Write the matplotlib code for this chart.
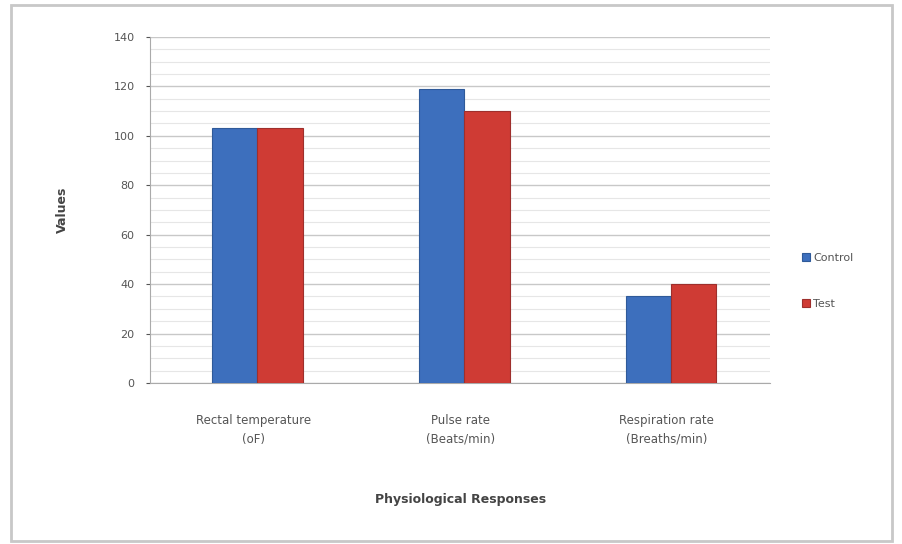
import numpy as np
import matplotlib
matplotlib.use("Agg")
import matplotlib.pyplot as plt
from matplotlib.patches import Rectangle

categories = ["Rectal temperature\n(oF)", "Pulse rate\n(Beats/min)", "Respiration rate\n(Breaths/min)"]
series_names = ["Control", "Test"]
control_values = [103, 119, 35]
test_values = [103, 110, 40]
y_ticks = [0, 20, 40, 60, 80, 100, 120, 140]

fig = plt.figure(figsize=(9.03, 5.44), dpi=100)
fig.patch.set_facecolor("white")
fig.patches.append(Rectangle((0.012, 0.005), 0.976, 0.985, transform=fig.transFigure,
                             fill=False, edgecolor="#c8c8c8", linewidth=2))

ax = fig.add_axes([0.166, 0.296, 0.687, 0.636])
x = np.arange(len(categories))
w = 0.22
ax.bar(x - w / 2 + 0.02, control_values, w, color="#3d6fbd", edgecolor="#2f5a99", linewidth=0.8,
       label=series_names[0], zorder=3)
ax.bar(x + w / 2 + 0.02, test_values, w, color="#cf3b34", edgecolor="#9e2f2c", linewidth=0.8,
       label=series_names[1], zorder=3)

ax.set_xlim(-0.5, len(categories) - 0.5)
ax.set_ylim(0, 140)
ax.set_yticks(y_ticks)
ax.set_yticks(np.arange(0, 141, 5), minor=True)
ax.grid(axis="y", which="major", color="#c8c8c8", linewidth=1, zorder=0)
ax.grid(axis="y", which="minor", color="#e6e6e6", linewidth=0.8, zorder=0)
ax.set_xticks(x)
ax.set_xticklabels(categories, fontsize=8.5, color="#555555", linespacing=1.6)
ax.tick_params(axis="y", labelsize=8, colors="#555555", length=3, pad=8)
ax.tick_params(axis="x", length=0, pad=22)
ax.tick_params(which="minor", length=0)
for side in ["top", "right"]:
    ax.spines[side].set_visible(False)
ax.spines["left"].set_color("#aaaaaa")
ax.spines["bottom"].set_color("#aaaaaa")

ax.set_ylabel("Values", fontsize=9, fontweight="bold", color="#444444", labelpad=32)
ax.set_xlabel("Physiological Responses", fontsize=9, fontweight="bold", color="#444444", labelpad=34)

ax.legend(loc="center left", bbox_to_anchor=(1.035, 0.295), frameon=False, fontsize=8,
          handlelength=0.7, handleheight=0.7, labelspacing=3.3, handletextpad=0.3,
          labelcolor="#555555")

fig.savefig("out.png", dpi=100)
